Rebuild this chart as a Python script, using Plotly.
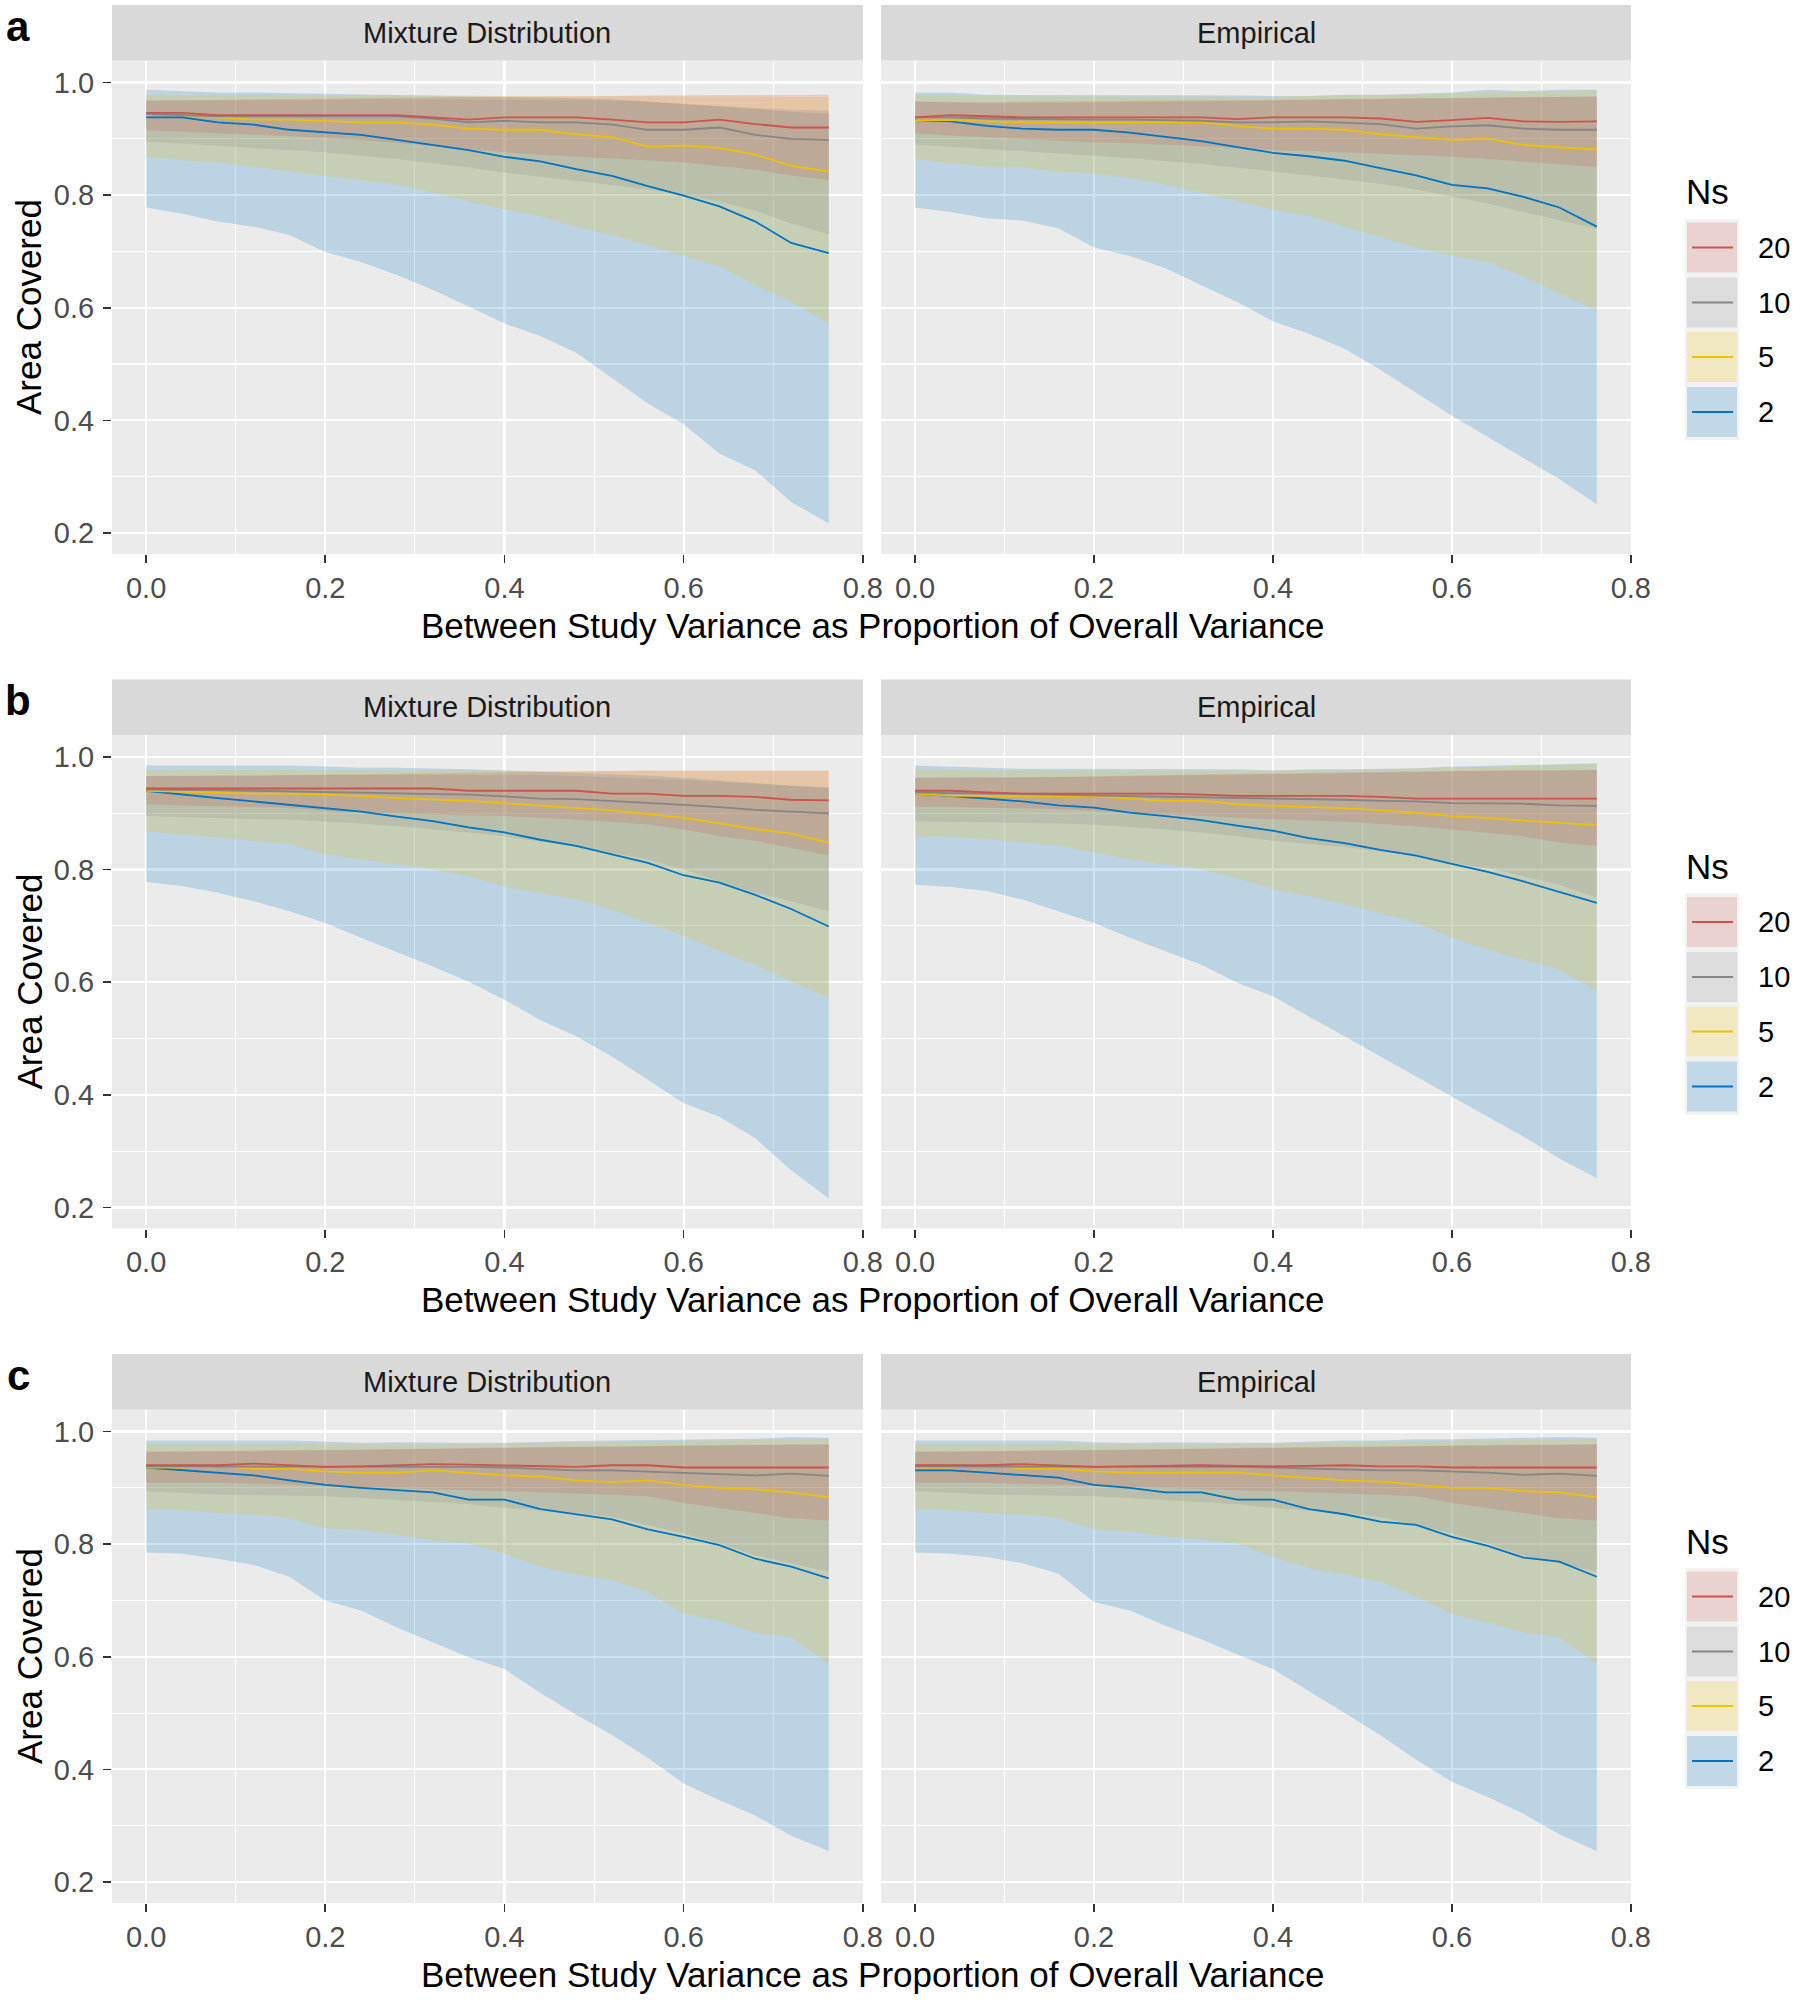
import plotly.graph_objects as go

# ---------------- data ----------------
X = [0.00, 0.04, 0.08, 0.12, 0.16, 0.20, 0.24, 0.28, 0.32, 0.36,
     0.40, 0.44, 0.48, 0.52, 0.56, 0.60, 0.64, 0.68, 0.72, 0.762]

NS_LEVELS = ["20", "10", "5", "2"]
FACETS = ["Mixture Distribution", "Empirical"]
ROW_LABELS = ["a", "b", "c"]
X_TICKS = [0.0, 0.2, 0.4, 0.6, 0.8]
X_TICKTEXT = ["0.0", "0.2", "0.4", "0.6", "0.8"]
Y_TICKS = [0.2, 0.4, 0.6, 0.8, 1.0]
Y_TICKTEXT = ["0.2", "0.4", "0.6", "0.8", "1.0"]

# ---- a / Mixture Distribution
A_MIX_MEAN_2 = [.938, .938, .929, .925, .916, .911, .907, .898, .889, .880, .868, .860, .846, .834, .816, .799, .780, .753, .715, .697]
A_MIX_MEAN_5 = [.942, .942, .938, .934, .934, .932, .929, .929, .925, .918, .916, .916, .908, .903, .886, .888, .884, .872, .852, .842]
A_MIX_MEAN_10 = [.944, .942, .940, .940, .940, .940, .940, .940, .936, .929, .932, .929, .929, .925, .916, .916, .920, .907, .900, .898]
A_MIX_MEAN_20 = [.946, .946, .942, .942, .942, .942, .942, .942, .938, .934, .938, .938, .938, .934, .929, .929, .934, .926, .920, .920]
A_MIX_LO_2 = [.778, .767, .753, .744, .729, .699, .681, .658, .632, .602, .572, .550, .520, .475, .430, .393, .341, .311, .255, .217]
A_MIX_LO_5 = [.868, .862, .858, .850, .841, .834, .826, .819, .804, .789, .774, .763, .744, .729, .711, .692, .673, .640, .610, .572]
A_MIX_LO_10 = [.895, .892, .888, .884, .880, .876, .870, .864, .857, .849, .840, .832, .825, .818, .810, .800, .788, .772, .750, .730]
A_MIX_LO_20 = [.915, .913, .910, .907, .905, .902, .898, .893, .888, .882, .876, .871, .868, .865, .862, .858, .852, .845, .835, .827]
A_MIX_HI_2 = [.987, .984, .982, .982, .981, .980, .979, .978, .977, .976, .975, .974, .972, .970, .966, .962, .958, .953, .948, .945]
A_MIX_HI_5 = [.978, .978, .977, .977, .977, .977, .977, .977, .977, .977, .976, .976, .976, .976, .975, .975, .975, .975, .974, .974]
A_MIX_HI_10 = [.968, .968, .968, .968, .968, .969, .970, .970, .970, .970, .970, .970, .969, .968, .966, .962, .958, .955, .952, .950]
A_MIX_HI_20 = [.968, .968, .969, .970, .970, .971, .972, .973, .974, .974, .975, .975, .975, .976, .977, .977, .977, .977, .978, .978]

# ---- a / Empirical
A_EMP_MEAN_2 = [.933, .931, .923, .918, .916, .916, .911, .904, .896, .885, .875, .869, .861, .848, .835, .818, .812, .797, .778, .744]
A_EMP_MEAN_5 = [.933, .933, .931, .929, .929, .929, .929, .929, .929, .923, .918, .918, .916, .908, .903, .898, .900, .889, .885, .881]
A_EMP_MEAN_10 = [.938, .938, .936, .935, .935, .934, .934, .933, .932, .929, .929, .931, .929, .926, .918, .922, .924, .918, .916, .916]
A_EMP_MEAN_20 = [.938, .942, .940, .938, .938, .938, .938, .938, .938, .935, .938, .938, .938, .936, .930, .933, .937, .931, .930, .931]
A_EMP_LO_2 = [.778, .770, .759, .755, .741, .707, .692, .670, .640, .610, .576, .554, .527, .490, .449, .408, .370, .333, .296, .251]
A_EMP_LO_5 = [.864, .856, .850, .849, .841, .838, .830, .819, .804, .789, .774, .763, .744, .726, .707, .692, .681, .655, .625, .595]
A_EMP_LO_10 = [.890, .886, .882, .878, .874, .870, .866, .860, .855, .849, .842, .835, .828, .820, .810, .798, .785, .770, .755, .740]
A_EMP_LO_20 = [.910, .906, .902, .900, .897, .894, .892, .890, .887, .884, .880, .878, .876, .874, .871, .868, .864, .860, .855, .850]
A_EMP_HI_2 = [.982, .982, .978, .978, .978, .978, .978, .978, .978, .977, .976, .976, .978, .978, .980, .982, .987, .985, .987, .987]
A_EMP_HI_5 = [.978, .978, .976, .975, .975, .975, .975, .975, .975, .975, .974, .976, .977, .978, .978, .980, .982, .983, .985, .987]
A_EMP_HI_10 = [.966, .964, .963, .963, .963, .964, .965, .966, .967, .968, .968, .968, .970, .970, .972, .972, .973, .974, .975, .975]
A_EMP_HI_20 = [.966, .965, .965, .966, .966, .966, .967, .968, .968, .968, .969, .970, .970, .971, .972, .972, .973, .974, .975, .975]

# ---- b / Mixture Distribution
B_MIX_MEAN_2 = [.940, .933, .927, .921, .915, .909, .903, .894, .886, .875, .866, .853, .842, .827, .812, .790, .777, .755, .730, .699]
B_MIX_MEAN_5 = [.940, .938, .937, .935, .935, .933, .931, .927, .925, .922, .918, .913, .909, .905, .899, .892, .882, .872, .864, .848]
B_MIX_MEAN_10 = [.942, .942, .941, .940, .939, .938, .937, .936, .935, .933, .930, .926, .925, .922, .919, .915, .911, .906, .903, .900]
B_MIX_MEAN_20 = [.944, .944, .944, .944, .944, .944, .944, .944, .944, .940, .940, .940, .940, .935, .935, .931, .931, .929, .924, .923]
B_MIX_LO_2 = [.778, .771, .759, .744, .726, .705, .679, .653, .628, .601, .569, .533, .504, .468, .427, .385, .361, .323, .266, .216]
B_MIX_LO_5 = [.868, .862, .856, .851, .845, .827, .818, .809, .800, .788, .770, .759, .747, .729, .705, .682, .655, .631, .601, .572]
B_MIX_LO_10 = [.895, .893, .892, .890, .889, .886, .882, .877, .872, .866, .859, .850, .842, .830, .818, .800, .779, .759, .744, .726]
B_MIX_LO_20 = [.916, .914, .913, .911, .910, .904, .901, .899, .898, .896, .895, .892, .889, .885, .880, .871, .859, .851, .839, .825]
B_MIX_HI_2 = [.985, .985, .985, .985, .985, .983, .981, .981, .980, .978, .976, .974, .972, .970, .967, .963, .958, .954, .949, .945]
B_MIX_HI_5 = [.977, .977, .977, .977, .977, .977, .977, .976, .976, .976, .976, .975, .975, .975, .975, .975, .975, .975, .975, .975]
B_MIX_HI_10 = [.966, .966, .966, .967, .967, .968, .968, .968, .969, .969, .969, .968, .966, .964, .962, .959, .956, .952, .949, .946]
B_MIX_HI_20 = [.966, .966, .966, .967, .968, .968, .969, .970, .971, .972, .973, .974, .975, .975, .976, .976, .976, .976, .976, .976]

# ---- b / Empirical
B_EMP_MEAN_2 = [.935, .931, .926, .921, .914, .910, .901, .895, .888, .878, .869, .856, .847, .835, .825, .810, .796, .779, .760, .741]
B_EMP_MEAN_5 = [.935, .931, .931, .931, .931, .930, .926, .922, .922, .916, .913, .911, .909, .905, .901, .895, .892, .887, .883, .879]
B_EMP_MEAN_10 = [.937, .936, .935, .934, .933, .932, .931, .930, .929, .927, .926, .926, .924, .922, .921, .918, .918, .917, .914, .913]
B_EMP_MEAN_20 = [.940, .940, .937, .935, .935, .935, .935, .935, .933, .931, .931, .931, .931, .929, .926, .926, .926, .926, .926, .926]
B_EMP_LO_2 = [.773, .769, .762, .747, .726, .705, .679, .655, .631, .599, .575, .539, .504, .468, .432, .397, .361, .326, .287, .252]
B_EMP_LO_5 = [.859, .858, .854, .848, .843, .830, .818, .809, .800, .785, .765, .753, .738, .723, .705, .679, .658, .640, .622, .584]
B_EMP_LO_10 = [.886, .885, .884, .883, .882, .880, .876, .871, .866, .859, .851, .846, .840, .832, .824, .812, .803, .788, .773, .750]
B_EMP_LO_20 = [.912, .911, .910, .909, .907, .905, .902, .898, .895, .892, .889, .887, .885, .881, .877, .871, .865, .859, .848, .842]
B_EMP_HI_2 = [.985, .983, .980, .979, .979, .979, .979, .979, .979, .978, .976, .978, .978, .979, .980, .983, .984, .985, .987, .989]
B_EMP_HI_5 = [.978, .977, .976, .975, .975, .975, .975, .975, .975, .975, .975, .976, .977, .978, .979, .981, .983, .984, .986, .988]
B_EMP_HI_10 = [.963, .963, .963, .964, .964, .965, .966, .967, .968, .968, .969, .970, .971, .972, .973, .974, .975, .976, .976, .977]
B_EMP_HI_20 = [.963, .963, .964, .964, .965, .966, .967, .968, .968, .969, .970, .971, .972, .973, .974, .975, .976, .976, .977, .977]

# ---- c / Mixture Distribution
C_MIX_MEAN_2 = [.936, .931, .927, .922, .913, .905, .900, .896, .892, .879, .879, .862, .853, .844, .826, .813, .798, .774, .760, .739]
C_MIX_MEAN_5 = [.936, .936, .939, .934, .934, .929, .927, .927, .931, .927, .922, .920, .913, .910, .913, .905, .900, .897, .892, .883]
C_MIX_MEAN_10 = [.938, .938, .937, .937, .937, .937, .937, .938, .938, .937, .936, .934, .931, .931, .929, .927, .925, .922, .925, .921]
C_MIX_MEAN_20 = [.940, .940, .940, .943, .940, .937, .938, .940, .942, .941, .940, .939, .937, .940, .940, .936, .936, .936, .936, .936]
C_MIX_LO_2 = [.785, .783, .774, .763, .742, .700, .682, .652, .625, .599, .578, .536, .497, .461, .420, .375, .345, .318, .282, .255]
C_MIX_LO_5 = [.862, .860, .855, .852, .846, .828, .825, .816, .807, .801, .783, .760, .745, .736, .715, .676, .664, .643, .634, .587]
C_MIX_LO_10 = [.894, .891, .888, .887, .886, .885, .882, .879, .875, .871, .864, .860, .855, .848, .834, .819, .801, .780, .766, .751]
C_MIX_LO_20 = [.909, .909, .909, .907, .906, .904, .902, .900, .898, .896, .894, .892, .890, .888, .885, .873, .864, .855, .846, .842]
C_MIX_HI_2 = [.984, .984, .984, .984, .984, .982, .980, .981, .980, .980, .980, .982, .983, .984, .985, .986, .986, .987, .990, .989]
C_MIX_HI_5 = [.978, .978, .978, .978, .978, .977, .977, .977, .977, .977, .978, .980, .981, .982, .983, .984, .985, .986, .987, .987]
C_MIX_HI_10 = [.964, .964, .965, .965, .966, .966, .967, .968, .969, .970, .971, .971, .972, .973, .974, .975, .975, .976, .976, .977]
C_MIX_HI_20 = [.964, .964, .965, .966, .966, .967, .968, .969, .970, .970, .971, .972, .973, .973, .974, .975, .976, .976, .977, .977]

# ---- c / Empirical
C_EMP_MEAN_2 = [.931, .931, .927, .922, .918, .905, .900, .892, .892, .879, .879, .862, .853, .840, .834, .813, .797, .776, .769, .742]
C_EMP_MEAN_5 = [.936, .936, .940, .934, .934, .929, .927, .927, .927, .927, .922, .917, .913, .911, .906, .900, .900, .894, .892, .883]
C_EMP_MEAN_10 = [.938, .938, .937, .937, .937, .937, .937, .938, .937, .937, .936, .934, .933, .931, .931, .929, .927, .923, .925, .921]
C_EMP_MEAN_20 = [.940, .940, .940, .942, .940, .937, .938, .939, .940, .939, .938, .939, .940, .938, .938, .936, .936, .936, .935, .936]
C_EMP_LO_2 = [.785, .783, .777, .766, .748, .697, .682, .655, .631, .604, .578, .539, .500, .461, .417, .378, .351, .321, .285, .255]
C_EMP_LO_5 = [.862, .860, .855, .852, .846, .826, .822, .814, .808, .801, .777, .757, .745, .733, .706, .676, .661, .643, .634, .587]
C_EMP_LO_10 = [.894, .891, .888, .887, .886, .885, .882, .879, .875, .871, .864, .860, .855, .848, .834, .819, .801, .780, .766, .751]
C_EMP_LO_20 = [.909, .909, .909, .907, .906, .904, .902, .900, .898, .896, .894, .892, .890, .888, .885, .873, .864, .855, .846, .842]
C_EMP_HI_2 = [.984, .984, .984, .984, .984, .981, .980, .981, .980, .980, .980, .982, .984, .984, .986, .986, .987, .988, .990, .989]
C_EMP_HI_5 = [.978, .978, .978, .978, .977, .977, .977, .977, .977, .977, .978, .980, .981, .982, .983, .984, .985, .986, .987, .987]
C_EMP_HI_10 = [.964, .964, .965, .965, .966, .966, .967, .968, .969, .970, .971, .971, .972, .973, .974, .975, .975, .976, .976, .977]
C_EMP_HI_20 = [.964, .964, .965, .966, .966, .967, .968, .969, .970, .970, .971, .972, .973, .973, .974, .975, .976, .976, .977, .977]

# ---------------- styling ----------------
COLORS = {"2": (0, 115, 194), "5": (239, 192, 0), "10": (134, 134, 134), "20": (205, 83, 76)}
FILL_ALPHA = 0.2
FONT = "Liberation Sans, Arial, Helvetica, sans-serif"
W, H = 1800, 2000

PANELS = {
    ("a", 0): (A_MIX_MEAN_2, A_MIX_MEAN_5, A_MIX_MEAN_10, A_MIX_MEAN_20,
               A_MIX_LO_2, A_MIX_LO_5, A_MIX_LO_10, A_MIX_LO_20,
               A_MIX_HI_2, A_MIX_HI_5, A_MIX_HI_10, A_MIX_HI_20),
    ("a", 1): (A_EMP_MEAN_2, A_EMP_MEAN_5, A_EMP_MEAN_10, A_EMP_MEAN_20,
               A_EMP_LO_2, A_EMP_LO_5, A_EMP_LO_10, A_EMP_LO_20,
               A_EMP_HI_2, A_EMP_HI_5, A_EMP_HI_10, A_EMP_HI_20),
    ("b", 0): (B_MIX_MEAN_2, B_MIX_MEAN_5, B_MIX_MEAN_10, B_MIX_MEAN_20,
               B_MIX_LO_2, B_MIX_LO_5, B_MIX_LO_10, B_MIX_LO_20,
               B_MIX_HI_2, B_MIX_HI_5, B_MIX_HI_10, B_MIX_HI_20),
    ("b", 1): (B_EMP_MEAN_2, B_EMP_MEAN_5, B_EMP_MEAN_10, B_EMP_MEAN_20,
               B_EMP_LO_2, B_EMP_LO_5, B_EMP_LO_10, B_EMP_LO_20,
               B_EMP_HI_2, B_EMP_HI_5, B_EMP_HI_10, B_EMP_HI_20),
    ("c", 0): (C_MIX_MEAN_2, C_MIX_MEAN_5, C_MIX_MEAN_10, C_MIX_MEAN_20,
               C_MIX_LO_2, C_MIX_LO_5, C_MIX_LO_10, C_MIX_LO_20,
               C_MIX_HI_2, C_MIX_HI_5, C_MIX_HI_10, C_MIX_HI_20),
    ("c", 1): (C_EMP_MEAN_2, C_EMP_MEAN_5, C_EMP_MEAN_10, C_EMP_MEAN_20,
               C_EMP_LO_2, C_EMP_LO_5, C_EMP_LO_10, C_EMP_LO_20,
               C_EMP_HI_2, C_EMP_HI_5, C_EMP_HI_10, C_EMP_HI_20),
}
GROUP_ORDER = ["2", "5", "10", "20"]

ROW_OFF = [0.0, 674.5, 1349.0]
PANEL_TOP, PANEL_BOT = 60.5, 554.0
STRIP_TOP = 5.0
COL_X = [(112.0, 863.0), (881.0, 1631.0)]
X_RANGE = [-0.0381, 0.8002]
Y_RANGE = [0.1627, 1.0390]


def fx(p):
    return p / W


def fy(p):
    return 1 - p / H


def rgba(c, a):
    return "rgba(%d,%d,%d,%s)" % (c[0], c[1], c[2], a)


fig = go.Figure()
layout_axes = {}
shapes = []
annotations = []

for r, row in enumerate(ROW_LABELS):
    off = ROW_OFF[r]
    for c in range(2):
        idx = r * 2 + c + 1
        xa = "x" if idx == 1 else "x%d" % idx
        ya = "y" if idx == 1 else "y%d" % idx
        data = PANELS[(row, c)]
        means = dict(zip(GROUP_ORDER, data[0:4]))
        los = dict(zip(GROUP_ORDER, data[4:8]))
        his = dict(zip(GROUP_ORDER, data[8:12]))
        # ribbons
        for g in GROUP_ORDER:
            fig.add_trace(go.Scatter(
                x=X + X[::-1], y=his[g] + los[g][::-1],
                mode="lines", fill="toself", line=dict(width=0),
                fillcolor=rgba(COLORS[g], FILL_ALPHA),
                hoverinfo="skip", showlegend=False, xaxis=xa, yaxis=ya))
        # mean lines
        for g in GROUP_ORDER:
            fig.add_trace(go.Scatter(
                x=X, y=means[g], mode="lines",
                line=dict(color=rgba(COLORS[g], 1), width=1.8),
                hoverinfo="skip", showlegend=False, xaxis=xa, yaxis=ya))

        x0, x1 = COL_X[c]
        kx = "xaxis" if idx == 1 else "xaxis%d" % idx
        ky = "yaxis" if idx == 1 else "yaxis%d" % idx
        layout_axes[kx] = dict(
            domain=[fx(x0), fx(x1)], range=X_RANGE, anchor=ya,
            tickmode="array", tickvals=X_TICKS, ticktext=X_TICKTEXT,
            showgrid=True, gridcolor="white", gridwidth=2.2,
            minor=dict(tickmode="array", tickvals=[0.1, 0.3, 0.5, 0.7],
                       showgrid=True, gridcolor="white", gridwidth=1.1, ticks=""),
            ticks="outside", ticklen=8, tickwidth=1.6, tickcolor="#333333",
            tickfont=dict(family=FONT, size=29, color="#4D4D4D"),
            ticklabelstandoff=0, automargin=False,
            zeroline=False, showline=False, fixedrange=True)
        layout_axes[ky] = dict(
            domain=[fy(off + PANEL_BOT), fy(off + PANEL_TOP)], range=Y_RANGE, anchor=xa,
            tickmode="array", tickvals=Y_TICKS, ticktext=Y_TICKTEXT,
            showgrid=True, gridcolor="white", gridwidth=2.2,
            minor=dict(tickmode="array", tickvals=[0.3, 0.5, 0.7, 0.9],
                       showgrid=True, gridcolor="white", gridwidth=1.1, ticks=""),
            ticks="outside" if c == 0 else "", ticklen=8, tickwidth=1.6, tickcolor="#333333",
            showticklabels=(c == 0),
            tickfont=dict(family=FONT, size=29, color="#4D4D4D"),
            ticklabelstandoff=3, automargin=False,
            zeroline=False, showline=False, fixedrange=True)

        # strip
        shapes.append(dict(type="rect", xref="paper", yref="paper",
                           x0=fx(x0), x1=fx(x1), y0=fy(off + PANEL_TOP), y1=fy(off + STRIP_TOP),
                           fillcolor="#D9D9D9", line=dict(width=0), layer="below"))
        annotations.append(dict(text=FACETS[c], xref="paper", yref="paper",
                                x=fx((x0 + x1) / 2), y=fy(off + (STRIP_TOP + PANEL_TOP) / 2),
                                showarrow=False, xanchor="center", yanchor="middle",
                                font=dict(family=FONT, size=29, color="#1A1A1A")))

    # axis titles
    annotations.append(dict(text="Area Covered", xref="paper", yref="paper",
                            x=fx(29), y=fy(off + 307), textangle=-90,
                            showarrow=False, xanchor="center", yanchor="middle",
                            font=dict(family=FONT, size=35, color="black")))
    annotations.append(dict(text="Between Study Variance as Proportion of Overall Variance",
                            xref="paper", yref="paper",
                            x=fx(872), y=fy(off + 625),
                            showarrow=False, xanchor="center", yanchor="middle",
                            font=dict(family=FONT, size=35, color="black")))
    # panel letter
    annotations.append(dict(text="<b>%s</b>" % row, xref="paper", yref="paper",
                            x=fx(18), y=fy(off + 26),
                            showarrow=False, xanchor="center", yanchor="middle",
                            font=dict(family=FONT, size=42, color="black")))

    # legend (drawn manually to mimic ggplot keys)
    annotations.append(dict(text="Ns", xref="paper", yref="paper",
                            x=fx(1684), y=fy(off + 192),
                            showarrow=False, xanchor="left", yanchor="middle",
                            font=dict(family=FONT, size=35, color="black")))
    shapes.append(dict(type="rect", xref="paper", yref="paper",
                       x0=fx(1685), x1=fx(1739), y0=fy(off + 440), y1=fy(off + 219),
                       fillcolor="#F2F2F2", line=dict(width=0)))
    key_tops = [222.5, 277.5, 332.0, 387.0]
    for k, lev in enumerate(NS_LEVELS):
        t = off + key_tops[k]
        b = t + 50
        shapes.append(dict(type="rect", xref="paper", yref="paper",
                           x0=fx(1687), x1=fx(1737), y0=fy(b), y1=fy(t),
                           fillcolor=rgba(COLORS[lev], FILL_ALPHA), line=dict(width=0)))
        shapes.append(dict(type="line", xref="paper", yref="paper",
                           x0=fx(1692), x1=fx(1733), y0=fy((t + b) / 2), y1=fy((t + b) / 2),
                           line=dict(color=rgba(COLORS[lev], 1), width=2)))
        annotations.append(dict(text=lev, xref="paper", yref="paper",
                                x=fx(1756), y=fy((t + b) / 2),
                                showarrow=False, xanchor="left", yanchor="middle",
                                font=dict(family=FONT, size=29, color="black")))

fig.update_layout(
    width=W, height=H, autosize=False,
    margin=dict(l=0, r=0, t=0, b=0, pad=0, autoexpand=False),
    paper_bgcolor="white", plot_bgcolor="#EBEBEB",
    showlegend=False,
    shapes=shapes, annotations=annotations,
    font=dict(family=FONT),
    **layout_axes,
)

fig.write_html("out.html", config={"staticPlot": True, "responsive": False},
               post_script="document.documentElement.style.overflow='hidden';"
                           "document.body.style.margin='0px';document.body.style.overflow='hidden';")
